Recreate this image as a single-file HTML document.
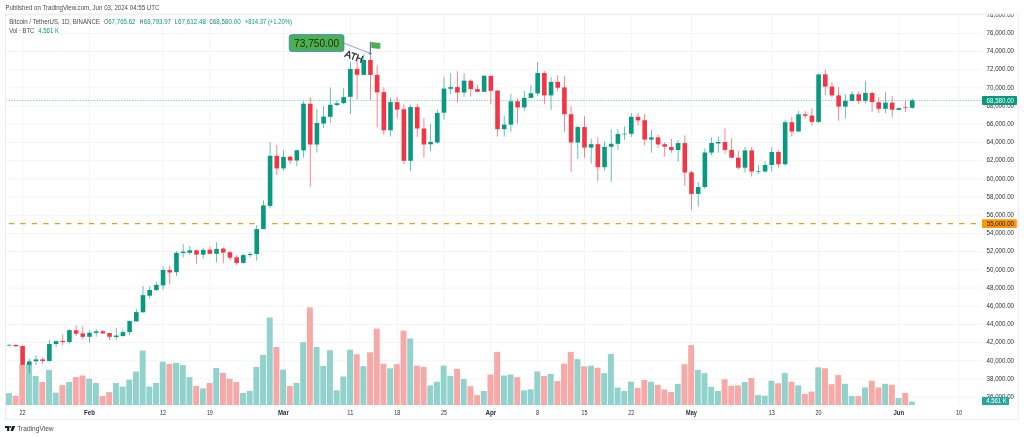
<!DOCTYPE html>
<html><head><meta charset="utf-8"><title>BTCUSDT chart</title>
<style>html,body{margin:0;padding:0;background:#fff;width:1024px;height:438px;overflow:hidden}svg{display:block;will-change:transform}</style>
</head><body><svg width="1024" height="438" viewBox="0 0 1024 438"><rect x="0" y="0" width="1024" height="438" fill="#ffffff"/><text x="5.4" y="9.9" font-family="Liberation Sans, sans-serif" font-size="6.8" fill="#4a4a4a" textLength="154" lengthAdjust="spacingAndGlyphs">Published on TradingView.com, Jun 03, 2024 04:55 UTC</text><defs><clipPath id="pane"><rect x="5.5" y="13.7" width="976.5" height="391.3"/></clipPath><clipPath id="axis"><rect x="982.0" y="13.7" width="36.299999999999955" height="391.3"/></clipPath></defs><g clip-path="url(#pane)" stroke="#f3f4f4" stroke-width="1"><line x1="5.5" y1="15.16" x2="982.0" y2="15.16"/><line x1="5.5" y1="33.35" x2="982.0" y2="33.35"/><line x1="5.5" y1="51.54" x2="982.0" y2="51.54"/><line x1="5.5" y1="69.73" x2="982.0" y2="69.73"/><line x1="5.5" y1="87.92" x2="982.0" y2="87.92"/><line x1="5.5" y1="106.11" x2="982.0" y2="106.11"/><line x1="5.5" y1="124.30" x2="982.0" y2="124.30"/><line x1="5.5" y1="142.49" x2="982.0" y2="142.49"/><line x1="5.5" y1="160.68" x2="982.0" y2="160.68"/><line x1="5.5" y1="178.87" x2="982.0" y2="178.87"/><line x1="5.5" y1="197.06" x2="982.0" y2="197.06"/><line x1="5.5" y1="215.25" x2="982.0" y2="215.25"/><line x1="5.5" y1="233.44" x2="982.0" y2="233.44"/><line x1="5.5" y1="251.63" x2="982.0" y2="251.63"/><line x1="5.5" y1="269.82" x2="982.0" y2="269.82"/><line x1="5.5" y1="288.01" x2="982.0" y2="288.01"/><line x1="5.5" y1="306.20" x2="982.0" y2="306.20"/><line x1="5.5" y1="324.39" x2="982.0" y2="324.39"/><line x1="5.5" y1="342.58" x2="982.0" y2="342.58"/><line x1="5.5" y1="360.77" x2="982.0" y2="360.77"/><line x1="5.5" y1="378.96" x2="982.0" y2="378.96"/><line x1="5.5" y1="397.15" x2="982.0" y2="397.15"/><line x1="22.60" y1="13.7" x2="22.60" y2="405.0"/><line x1="89.49" y1="13.7" x2="89.49" y2="405.0"/><line x1="163.07" y1="13.7" x2="163.07" y2="405.0"/><line x1="209.89" y1="13.7" x2="209.89" y2="405.0"/><line x1="283.47" y1="13.7" x2="283.47" y2="405.0"/><line x1="350.36" y1="13.7" x2="350.36" y2="405.0"/><line x1="397.18" y1="13.7" x2="397.18" y2="405.0"/><line x1="444.01" y1="13.7" x2="444.01" y2="405.0"/><line x1="490.83" y1="13.7" x2="490.83" y2="405.0"/><line x1="537.65" y1="13.7" x2="537.65" y2="405.0"/><line x1="584.48" y1="13.7" x2="584.48" y2="405.0"/><line x1="631.30" y1="13.7" x2="631.30" y2="405.0"/><line x1="691.50" y1="13.7" x2="691.50" y2="405.0"/><line x1="771.77" y1="13.7" x2="771.77" y2="405.0"/><line x1="818.59" y1="13.7" x2="818.59" y2="405.0"/><line x1="898.86" y1="13.7" x2="898.86" y2="405.0"/><line x1="959.06" y1="13.7" x2="959.06" y2="405.0"/></g><g clip-path="url(#pane)"><rect x="5.90" y="393.20" width="5.95" height="11.80" fill="#92d2cc"/><rect x="12.59" y="395.90" width="5.95" height="9.10" fill="#f7a9a7"/><rect x="19.27" y="364.30" width="5.95" height="40.70" fill="#f7a9a7"/><rect x="25.96" y="364.00" width="5.95" height="41.00" fill="#92d2cc"/><rect x="32.65" y="375.90" width="5.95" height="29.10" fill="#92d2cc"/><rect x="39.34" y="381.90" width="5.95" height="23.10" fill="#f7a9a7"/><rect x="46.03" y="369.90" width="5.95" height="35.10" fill="#92d2cc"/><rect x="52.72" y="392.70" width="5.95" height="12.30" fill="#92d2cc"/><rect x="59.41" y="385.00" width="5.95" height="20.00" fill="#f7a9a7"/><rect x="66.10" y="381.90" width="5.95" height="23.10" fill="#92d2cc"/><rect x="72.79" y="377.10" width="5.95" height="27.90" fill="#f7a9a7"/><rect x="79.48" y="375.50" width="5.95" height="29.50" fill="#f7a9a7"/><rect x="86.17" y="378.70" width="5.95" height="26.30" fill="#92d2cc"/><rect x="92.85" y="382.90" width="5.95" height="22.10" fill="#92d2cc"/><rect x="99.54" y="396.00" width="5.95" height="9.00" fill="#f7a9a7"/><rect x="106.23" y="392.10" width="5.95" height="12.90" fill="#f7a9a7"/><rect x="112.92" y="383.00" width="5.95" height="22.00" fill="#92d2cc"/><rect x="119.61" y="386.60" width="5.95" height="18.40" fill="#92d2cc"/><rect x="126.30" y="379.70" width="5.95" height="25.30" fill="#92d2cc"/><rect x="132.99" y="371.60" width="5.95" height="33.40" fill="#92d2cc"/><rect x="139.68" y="350.60" width="5.95" height="54.40" fill="#92d2cc"/><rect x="146.37" y="386.60" width="5.95" height="18.40" fill="#92d2cc"/><rect x="153.06" y="383.00" width="5.95" height="22.00" fill="#92d2cc"/><rect x="159.74" y="361.60" width="5.95" height="43.40" fill="#92d2cc"/><rect x="166.43" y="364.00" width="5.95" height="41.00" fill="#f7a9a7"/><rect x="173.12" y="362.90" width="5.95" height="42.10" fill="#92d2cc"/><rect x="179.81" y="365.10" width="5.95" height="39.90" fill="#92d2cc"/><rect x="186.50" y="377.10" width="5.95" height="27.90" fill="#92d2cc"/><rect x="193.19" y="385.90" width="5.95" height="19.10" fill="#f7a9a7"/><rect x="199.88" y="388.40" width="5.95" height="16.60" fill="#92d2cc"/><rect x="206.57" y="383.00" width="5.95" height="22.00" fill="#f7a9a7"/><rect x="213.26" y="368.00" width="5.95" height="37.00" fill="#92d2cc"/><rect x="219.95" y="372.90" width="5.95" height="32.10" fill="#f7a9a7"/><rect x="226.63" y="378.80" width="5.95" height="26.20" fill="#f7a9a7"/><rect x="233.32" y="382.10" width="5.95" height="22.90" fill="#f7a9a7"/><rect x="240.01" y="393.00" width="5.95" height="12.00" fill="#92d2cc"/><rect x="246.70" y="391.00" width="5.95" height="14.00" fill="#92d2cc"/><rect x="253.39" y="366.90" width="5.95" height="38.10" fill="#92d2cc"/><rect x="260.08" y="354.90" width="5.95" height="50.10" fill="#92d2cc"/><rect x="266.77" y="317.50" width="5.95" height="87.50" fill="#92d2cc"/><rect x="273.46" y="347.00" width="5.95" height="58.00" fill="#f7a9a7"/><rect x="280.15" y="369.70" width="5.95" height="35.30" fill="#92d2cc"/><rect x="286.83" y="386.00" width="5.95" height="19.00" fill="#f7a9a7"/><rect x="293.52" y="382.90" width="5.95" height="22.10" fill="#92d2cc"/><rect x="300.21" y="342.20" width="5.95" height="62.80" fill="#92d2cc"/><rect x="306.90" y="307.40" width="5.95" height="97.60" fill="#f7a9a7"/><rect x="313.59" y="347.00" width="5.95" height="58.00" fill="#92d2cc"/><rect x="320.28" y="366.00" width="5.95" height="39.00" fill="#92d2cc"/><rect x="326.97" y="350.20" width="5.95" height="54.80" fill="#92d2cc"/><rect x="333.66" y="390.30" width="5.95" height="14.70" fill="#92d2cc"/><rect x="340.35" y="376.50" width="5.95" height="28.50" fill="#92d2cc"/><rect x="347.04" y="349.80" width="5.95" height="55.20" fill="#92d2cc"/><rect x="353.72" y="354.30" width="5.95" height="50.70" fill="#f7a9a7"/><rect x="360.41" y="366.20" width="5.95" height="38.80" fill="#92d2cc"/><rect x="367.10" y="352.30" width="5.95" height="52.70" fill="#f7a9a7"/><rect x="373.79" y="328.60" width="5.95" height="76.40" fill="#f7a9a7"/><rect x="380.48" y="363.80" width="5.95" height="41.20" fill="#f7a9a7"/><rect x="387.17" y="368.30" width="5.95" height="36.70" fill="#92d2cc"/><rect x="393.86" y="364.20" width="5.95" height="40.80" fill="#f7a9a7"/><rect x="400.55" y="330.70" width="5.95" height="74.30" fill="#f7a9a7"/><rect x="407.24" y="338.50" width="5.95" height="66.50" fill="#92d2cc"/><rect x="413.93" y="365.60" width="5.95" height="39.40" fill="#f7a9a7"/><rect x="420.62" y="366.90" width="5.95" height="38.10" fill="#f7a9a7"/><rect x="427.30" y="385.40" width="5.95" height="19.60" fill="#92d2cc"/><rect x="433.99" y="381.70" width="5.95" height="23.30" fill="#92d2cc"/><rect x="440.68" y="365.60" width="5.95" height="39.40" fill="#92d2cc"/><rect x="447.37" y="375.90" width="5.95" height="29.10" fill="#92d2cc"/><rect x="454.06" y="368.90" width="5.95" height="36.10" fill="#f7a9a7"/><rect x="460.75" y="379.00" width="5.95" height="26.00" fill="#92d2cc"/><rect x="467.44" y="386.20" width="5.95" height="18.80" fill="#f7a9a7"/><rect x="474.13" y="395.10" width="5.95" height="9.90" fill="#f7a9a7"/><rect x="480.82" y="391.00" width="5.95" height="14.00" fill="#92d2cc"/><rect x="487.50" y="374.50" width="5.95" height="30.50" fill="#f7a9a7"/><rect x="494.19" y="351.90" width="5.95" height="53.10" fill="#f7a9a7"/><rect x="500.88" y="375.50" width="5.95" height="29.50" fill="#92d2cc"/><rect x="507.57" y="374.50" width="5.95" height="30.50" fill="#92d2cc"/><rect x="514.26" y="377.20" width="5.95" height="27.80" fill="#f7a9a7"/><rect x="520.95" y="390.30" width="5.95" height="14.70" fill="#92d2cc"/><rect x="527.64" y="389.30" width="5.95" height="15.70" fill="#92d2cc"/><rect x="534.33" y="371.40" width="5.95" height="33.60" fill="#92d2cc"/><rect x="541.02" y="375.90" width="5.95" height="29.10" fill="#f7a9a7"/><rect x="547.71" y="373.90" width="5.95" height="31.10" fill="#92d2cc"/><rect x="554.39" y="381.10" width="5.95" height="23.90" fill="#f7a9a7"/><rect x="561.08" y="363.60" width="5.95" height="41.40" fill="#f7a9a7"/><rect x="567.77" y="351.90" width="5.95" height="53.10" fill="#f7a9a7"/><rect x="574.46" y="359.10" width="5.95" height="45.90" fill="#92d2cc"/><rect x="581.15" y="366.30" width="5.95" height="38.70" fill="#f7a9a7"/><rect x="587.84" y="365.70" width="5.95" height="39.30" fill="#92d2cc"/><rect x="594.53" y="367.70" width="5.95" height="37.30" fill="#f7a9a7"/><rect x="601.22" y="373.10" width="5.95" height="31.90" fill="#92d2cc"/><rect x="607.91" y="353.90" width="5.95" height="51.10" fill="#92d2cc"/><rect x="614.60" y="387.50" width="5.95" height="17.50" fill="#92d2cc"/><rect x="621.28" y="391.00" width="5.95" height="14.00" fill="#92d2cc"/><rect x="627.97" y="381.70" width="5.95" height="23.30" fill="#92d2cc"/><rect x="634.66" y="387.90" width="5.95" height="17.10" fill="#f7a9a7"/><rect x="641.35" y="380.00" width="5.95" height="25.00" fill="#f7a9a7"/><rect x="648.04" y="381.70" width="5.95" height="23.30" fill="#92d2cc"/><rect x="654.73" y="384.80" width="5.95" height="20.20" fill="#f7a9a7"/><rect x="661.42" y="389.50" width="5.95" height="15.50" fill="#f7a9a7"/><rect x="668.11" y="392.00" width="5.95" height="13.00" fill="#f7a9a7"/><rect x="674.80" y="383.80" width="5.95" height="21.20" fill="#92d2cc"/><rect x="681.49" y="364.20" width="5.95" height="40.80" fill="#f7a9a7"/><rect x="688.17" y="345.10" width="5.95" height="59.90" fill="#f7a9a7"/><rect x="694.86" y="369.80" width="5.95" height="35.20" fill="#92d2cc"/><rect x="701.55" y="373.10" width="5.95" height="31.90" fill="#92d2cc"/><rect x="708.24" y="386.80" width="5.95" height="18.20" fill="#92d2cc"/><rect x="714.93" y="391.00" width="5.95" height="14.00" fill="#92d2cc"/><rect x="721.62" y="379.20" width="5.95" height="25.80" fill="#f7a9a7"/><rect x="728.31" y="385.80" width="5.95" height="19.20" fill="#f7a9a7"/><rect x="735.00" y="385.40" width="5.95" height="19.60" fill="#f7a9a7"/><rect x="741.69" y="382.10" width="5.95" height="22.90" fill="#92d2cc"/><rect x="748.38" y="378.00" width="5.95" height="27.00" fill="#f7a9a7"/><rect x="755.06" y="395.10" width="5.95" height="9.90" fill="#92d2cc"/><rect x="761.75" y="395.70" width="5.95" height="9.30" fill="#92d2cc"/><rect x="768.44" y="380.70" width="5.95" height="24.30" fill="#92d2cc"/><rect x="775.13" y="383.30" width="5.95" height="21.70" fill="#f7a9a7"/><rect x="781.82" y="373.10" width="5.95" height="31.90" fill="#92d2cc"/><rect x="788.51" y="381.70" width="5.95" height="23.30" fill="#f7a9a7"/><rect x="795.20" y="385.40" width="5.95" height="19.60" fill="#92d2cc"/><rect x="801.89" y="394.00" width="5.95" height="11.00" fill="#f7a9a7"/><rect x="808.58" y="391.60" width="5.95" height="13.40" fill="#f7a9a7"/><rect x="815.27" y="367.30" width="5.95" height="37.70" fill="#92d2cc"/><rect x="821.96" y="368.30" width="5.95" height="36.70" fill="#f7a9a7"/><rect x="828.64" y="384.20" width="5.95" height="20.80" fill="#f7a9a7"/><rect x="835.33" y="375.10" width="5.95" height="29.90" fill="#f7a9a7"/><rect x="842.02" y="383.80" width="5.95" height="21.20" fill="#92d2cc"/><rect x="848.71" y="396.10" width="5.95" height="8.90" fill="#92d2cc"/><rect x="855.40" y="396.10" width="5.95" height="8.90" fill="#f7a9a7"/><rect x="862.09" y="387.50" width="5.95" height="17.50" fill="#92d2cc"/><rect x="868.78" y="380.70" width="5.95" height="24.30" fill="#f7a9a7"/><rect x="875.47" y="387.50" width="5.95" height="17.50" fill="#f7a9a7"/><rect x="882.16" y="383.80" width="5.95" height="21.20" fill="#92d2cc"/><rect x="888.85" y="384.80" width="5.95" height="20.20" fill="#f7a9a7"/><rect x="895.53" y="398.10" width="5.95" height="6.90" fill="#92d2cc"/><rect x="902.22" y="393.00" width="5.95" height="12.00" fill="#f7a9a7"/><rect x="908.91" y="401.60" width="5.95" height="3.40" fill="#92d2cc"/></g><line x1="5.5" y1="223.6" x2="982.0" y2="223.6" stroke="#ff9800" stroke-width="1.3" stroke-dasharray="5.3 6.15" stroke-dashoffset="8.1"/><line x1="5.5" y1="100.5" x2="982.0" y2="100.5" stroke="#089981" stroke-width="0.9" stroke-opacity="0.5" stroke-dasharray="1.4 1.35"/><g clip-path="url(#pane)"><rect x="8.82" y="344.00" width="0.8" height="2.60" fill="#089981" fill-opacity="0.75"/><rect x="6.92" y="344.90" width="4.6" height="0.60" fill="#089981"/><rect x="15.51" y="343.70" width="0.8" height="2.90" fill="#f23645" fill-opacity="0.75"/><rect x="13.61" y="345.00" width="4.6" height="1.30" fill="#f23645"/><rect x="22.20" y="345.40" width="0.8" height="19.80" fill="#f23645" fill-opacity="0.75"/><rect x="20.30" y="346.00" width="4.6" height="18.80" fill="#f23645"/><rect x="28.89" y="358.60" width="0.8" height="15.00" fill="#089981" fill-opacity="0.75"/><rect x="26.99" y="361.40" width="4.6" height="3.40" fill="#089981"/><rect x="35.58" y="355.10" width="0.8" height="9.80" fill="#089981" fill-opacity="0.75"/><rect x="33.68" y="359.40" width="4.6" height="1.80" fill="#089981"/><rect x="42.27" y="357.40" width="0.8" height="6.40" fill="#f23645" fill-opacity="0.75"/><rect x="40.37" y="359.40" width="4.6" height="1.60" fill="#f23645"/><rect x="48.96" y="339.90" width="0.8" height="21.60" fill="#089981" fill-opacity="0.75"/><rect x="47.06" y="344.00" width="4.6" height="17.00" fill="#089981"/><rect x="55.65" y="340.40" width="0.8" height="6.70" fill="#089981" fill-opacity="0.75"/><rect x="53.75" y="341.20" width="4.6" height="2.80" fill="#089981"/><rect x="62.33" y="334.50" width="0.8" height="10.50" fill="#f23645" fill-opacity="0.75"/><rect x="60.43" y="341.00" width="4.6" height="1.00" fill="#f23645"/><rect x="69.02" y="329.60" width="0.8" height="13.90" fill="#089981" fill-opacity="0.75"/><rect x="67.12" y="330.10" width="4.6" height="11.90" fill="#089981"/><rect x="75.71" y="325.20" width="0.8" height="10.80" fill="#f23645" fill-opacity="0.75"/><rect x="73.81" y="330.30" width="4.6" height="3.40" fill="#f23645"/><rect x="82.40" y="326.20" width="0.8" height="13.40" fill="#f23645" fill-opacity="0.75"/><rect x="80.50" y="333.40" width="4.6" height="3.40" fill="#f23645"/><rect x="89.09" y="330.30" width="0.8" height="12.30" fill="#089981" fill-opacity="0.75"/><rect x="87.19" y="332.70" width="4.6" height="4.10" fill="#089981"/><rect x="95.78" y="329.00" width="0.8" height="7.80" fill="#089981" fill-opacity="0.75"/><rect x="93.88" y="331.30" width="4.6" height="1.60" fill="#089981"/><rect x="102.47" y="330.30" width="0.8" height="3.40" fill="#f23645" fill-opacity="0.75"/><rect x="100.57" y="331.30" width="4.6" height="2.10" fill="#f23645"/><rect x="109.16" y="332.70" width="0.8" height="7.40" fill="#f23645" fill-opacity="0.75"/><rect x="107.26" y="333.10" width="4.6" height="3.70" fill="#f23645"/><rect x="115.85" y="327.70" width="0.8" height="11.90" fill="#089981" fill-opacity="0.75"/><rect x="113.95" y="335.50" width="4.6" height="1.50" fill="#089981"/><rect x="122.53" y="329.30" width="0.8" height="7.50" fill="#089981" fill-opacity="0.75"/><rect x="120.64" y="332.10" width="4.6" height="3.90" fill="#089981"/><rect x="129.22" y="320.30" width="0.8" height="14.70" fill="#089981" fill-opacity="0.75"/><rect x="127.32" y="321.10" width="4.6" height="11.00" fill="#089981"/><rect x="135.91" y="309.00" width="0.8" height="12.60" fill="#089981" fill-opacity="0.75"/><rect x="134.01" y="312.10" width="4.6" height="9.30" fill="#089981"/><rect x="142.60" y="285.90" width="0.8" height="26.60" fill="#089981" fill-opacity="0.75"/><rect x="140.70" y="295.10" width="4.6" height="17.20" fill="#089981"/><rect x="149.29" y="286.20" width="0.8" height="12.40" fill="#089981" fill-opacity="0.75"/><rect x="147.39" y="290.00" width="4.6" height="5.70" fill="#089981"/><rect x="155.98" y="282.00" width="0.8" height="9.00" fill="#089981" fill-opacity="0.75"/><rect x="154.08" y="284.90" width="4.6" height="5.10" fill="#089981"/><rect x="162.67" y="266.50" width="0.8" height="23.20" fill="#089981" fill-opacity="0.75"/><rect x="160.77" y="270.00" width="4.6" height="15.40" fill="#089981"/><rect x="169.36" y="266.00" width="0.8" height="18.50" fill="#f23645" fill-opacity="0.75"/><rect x="167.46" y="270.00" width="4.6" height="2.50" fill="#f23645"/><rect x="176.05" y="251.10" width="0.8" height="24.90" fill="#089981" fill-opacity="0.75"/><rect x="174.15" y="252.80" width="4.6" height="19.40" fill="#089981"/><rect x="182.74" y="243.80" width="0.8" height="13.70" fill="#089981" fill-opacity="0.75"/><rect x="180.84" y="251.60" width="4.6" height="1.40" fill="#089981"/><rect x="189.42" y="246.00" width="0.8" height="8.60" fill="#089981" fill-opacity="0.75"/><rect x="187.52" y="250.30" width="4.6" height="2.50" fill="#089981"/><rect x="196.11" y="250.00" width="0.8" height="13.60" fill="#f23645" fill-opacity="0.75"/><rect x="194.21" y="250.30" width="4.6" height="4.30" fill="#f23645"/><rect x="202.80" y="247.70" width="0.8" height="10.80" fill="#089981" fill-opacity="0.75"/><rect x="200.90" y="249.90" width="4.6" height="4.70" fill="#089981"/><rect x="209.49" y="246.50" width="0.8" height="7.30" fill="#f23645" fill-opacity="0.75"/><rect x="207.59" y="249.70" width="4.6" height="4.10" fill="#f23645"/><rect x="216.18" y="242.40" width="0.8" height="20.10" fill="#089981" fill-opacity="0.75"/><rect x="214.28" y="248.90" width="4.6" height="4.90" fill="#089981"/><rect x="222.87" y="247.40" width="0.8" height="16.00" fill="#f23645" fill-opacity="0.75"/><rect x="220.97" y="248.60" width="4.6" height="4.00" fill="#f23645"/><rect x="229.56" y="251.00" width="0.8" height="9.20" fill="#f23645" fill-opacity="0.75"/><rect x="227.66" y="252.20" width="4.6" height="5.50" fill="#f23645"/><rect x="236.25" y="255.10" width="0.8" height="9.60" fill="#f23645" fill-opacity="0.75"/><rect x="234.35" y="257.40" width="4.6" height="5.50" fill="#f23645"/><rect x="242.94" y="254.20" width="0.8" height="9.60" fill="#089981" fill-opacity="0.75"/><rect x="241.04" y="255.10" width="4.6" height="7.80" fill="#089981"/><rect x="249.63" y="252.00" width="0.8" height="5.40" fill="#089981" fill-opacity="0.75"/><rect x="247.73" y="254.00" width="4.6" height="1.10" fill="#089981"/><rect x="256.32" y="224.90" width="0.8" height="35.70" fill="#089981" fill-opacity="0.75"/><rect x="254.42" y="229.10" width="4.6" height="24.90" fill="#089981"/><rect x="263.00" y="200.30" width="0.8" height="28.80" fill="#089981" fill-opacity="0.75"/><rect x="261.10" y="205.40" width="4.6" height="23.70" fill="#089981"/><rect x="269.69" y="142.00" width="0.8" height="66.50" fill="#089981" fill-opacity="0.75"/><rect x="267.79" y="155.80" width="4.6" height="50.10" fill="#089981"/><rect x="276.38" y="145.00" width="0.8" height="30.00" fill="#f23645" fill-opacity="0.75"/><rect x="274.48" y="155.80" width="4.6" height="12.60" fill="#f23645"/><rect x="283.07" y="150.20" width="0.8" height="20.50" fill="#089981" fill-opacity="0.75"/><rect x="281.17" y="156.90" width="4.6" height="11.50" fill="#089981"/><rect x="289.76" y="155.80" width="0.8" height="8.20" fill="#f23645" fill-opacity="0.75"/><rect x="287.86" y="156.70" width="4.6" height="3.80" fill="#f23645"/><rect x="296.45" y="149.70" width="0.8" height="16.40" fill="#089981" fill-opacity="0.75"/><rect x="294.55" y="150.20" width="4.6" height="10.30" fill="#089981"/><rect x="303.14" y="101.40" width="0.8" height="56.20" fill="#089981" fill-opacity="0.75"/><rect x="301.24" y="103.70" width="4.6" height="46.70" fill="#089981"/><rect x="309.83" y="97.10" width="0.8" height="89.70" fill="#f23645" fill-opacity="0.75"/><rect x="307.93" y="103.70" width="4.6" height="40.80" fill="#f23645"/><rect x="316.52" y="108.90" width="0.8" height="43.70" fill="#089981" fill-opacity="0.75"/><rect x="314.62" y="123.00" width="4.6" height="21.50" fill="#089981"/><rect x="323.21" y="106.10" width="0.8" height="21.80" fill="#089981" fill-opacity="0.75"/><rect x="321.31" y="116.60" width="4.6" height="7.00" fill="#089981"/><rect x="329.89" y="87.50" width="0.8" height="35.20" fill="#089981" fill-opacity="0.75"/><rect x="327.99" y="104.80" width="4.6" height="12.00" fill="#089981"/><rect x="336.58" y="100.70" width="0.8" height="5.80" fill="#089981" fill-opacity="0.75"/><rect x="334.68" y="103.20" width="4.6" height="1.80" fill="#089981"/><rect x="343.27" y="88.40" width="0.8" height="15.80" fill="#089981" fill-opacity="0.75"/><rect x="341.37" y="97.10" width="4.6" height="6.10" fill="#089981"/><rect x="349.96" y="62.00" width="0.8" height="52.00" fill="#089981" fill-opacity="0.75"/><rect x="348.06" y="68.90" width="4.6" height="27.90" fill="#089981"/><rect x="356.65" y="59.80" width="0.8" height="39.80" fill="#f23645" fill-opacity="0.75"/><rect x="354.75" y="68.90" width="4.6" height="5.90" fill="#f23645"/><rect x="363.34" y="54.20" width="0.8" height="20.70" fill="#089981" fill-opacity="0.75"/><rect x="361.44" y="60.00" width="4.6" height="14.90" fill="#089981"/><rect x="370.03" y="53.40" width="0.8" height="46.80" fill="#f23645" fill-opacity="0.75"/><rect x="368.13" y="60.00" width="4.6" height="14.90" fill="#f23645"/><rect x="376.72" y="65.60" width="0.8" height="61.50" fill="#f23645" fill-opacity="0.75"/><rect x="374.82" y="74.90" width="4.6" height="17.50" fill="#f23645"/><rect x="383.41" y="87.10" width="0.8" height="47.60" fill="#f23645" fill-opacity="0.75"/><rect x="381.51" y="92.10" width="4.6" height="38.20" fill="#f23645"/><rect x="390.10" y="97.30" width="0.8" height="39.40" fill="#089981" fill-opacity="0.75"/><rect x="388.19" y="102.10" width="4.6" height="28.20" fill="#089981"/><rect x="396.78" y="96.90" width="0.8" height="21.30" fill="#f23645" fill-opacity="0.75"/><rect x="394.88" y="102.10" width="4.6" height="7.50" fill="#f23645"/><rect x="403.47" y="104.50" width="0.8" height="59.80" fill="#f23645" fill-opacity="0.75"/><rect x="401.57" y="109.20" width="4.6" height="51.60" fill="#f23645"/><rect x="410.16" y="104.50" width="0.8" height="66.60" fill="#089981" fill-opacity="0.75"/><rect x="408.26" y="107.10" width="4.6" height="53.70" fill="#089981"/><rect x="416.85" y="103.70" width="0.8" height="33.10" fill="#f23645" fill-opacity="0.75"/><rect x="414.95" y="107.10" width="4.6" height="21.40" fill="#f23645"/><rect x="423.54" y="118.10" width="0.8" height="39.60" fill="#f23645" fill-opacity="0.75"/><rect x="421.64" y="128.50" width="4.6" height="16.00" fill="#f23645"/><rect x="430.23" y="124.00" width="0.8" height="27.10" fill="#089981" fill-opacity="0.75"/><rect x="428.33" y="141.90" width="4.6" height="2.40" fill="#089981"/><rect x="436.92" y="109.50" width="0.8" height="34.10" fill="#089981" fill-opacity="0.75"/><rect x="435.02" y="113.00" width="4.6" height="29.50" fill="#089981"/><rect x="443.61" y="77.10" width="0.8" height="42.50" fill="#089981" fill-opacity="0.75"/><rect x="441.71" y="88.60" width="4.6" height="24.10" fill="#089981"/><rect x="450.30" y="73.20" width="0.8" height="20.80" fill="#089981" fill-opacity="0.75"/><rect x="448.40" y="87.10" width="4.6" height="1.70" fill="#089981"/><rect x="456.99" y="71.20" width="0.8" height="31.30" fill="#f23645" fill-opacity="0.75"/><rect x="455.09" y="87.10" width="4.6" height="5.40" fill="#f23645"/><rect x="463.67" y="73.20" width="0.8" height="23.70" fill="#089981" fill-opacity="0.75"/><rect x="461.77" y="80.60" width="4.6" height="11.90" fill="#089981"/><rect x="470.36" y="79.30" width="0.8" height="17.20" fill="#f23645" fill-opacity="0.75"/><rect x="468.46" y="80.70" width="4.6" height="8.40" fill="#f23645"/><rect x="477.05" y="84.80" width="0.8" height="7.00" fill="#f23645" fill-opacity="0.75"/><rect x="475.15" y="89.10" width="4.6" height="2.70" fill="#f23645"/><rect x="483.74" y="75.20" width="0.8" height="16.60" fill="#089981" fill-opacity="0.75"/><rect x="481.84" y="75.80" width="4.6" height="16.00" fill="#089981"/><rect x="490.43" y="75.80" width="0.8" height="28.70" fill="#f23645" fill-opacity="0.75"/><rect x="488.53" y="75.80" width="4.6" height="15.00" fill="#f23645"/><rect x="497.12" y="90.20" width="0.8" height="46.30" fill="#f23645" fill-opacity="0.75"/><rect x="495.22" y="90.60" width="4.6" height="38.60" fill="#f23645"/><rect x="503.81" y="115.80" width="0.8" height="20.70" fill="#089981" fill-opacity="0.75"/><rect x="501.91" y="124.60" width="4.6" height="4.60" fill="#089981"/><rect x="510.50" y="93.80" width="0.8" height="37.90" fill="#089981" fill-opacity="0.75"/><rect x="508.60" y="101.30" width="4.6" height="23.30" fill="#089981"/><rect x="517.19" y="99.10" width="0.8" height="24.80" fill="#f23645" fill-opacity="0.75"/><rect x="515.29" y="101.30" width="4.6" height="6.10" fill="#f23645"/><rect x="523.88" y="90.50" width="0.8" height="20.30" fill="#089981" fill-opacity="0.75"/><rect x="521.98" y="97.90" width="4.6" height="9.50" fill="#089981"/><rect x="530.56" y="85.00" width="0.8" height="13.00" fill="#089981" fill-opacity="0.75"/><rect x="528.66" y="93.20" width="4.6" height="4.70" fill="#089981"/><rect x="537.25" y="62.00" width="0.8" height="33.90" fill="#089981" fill-opacity="0.75"/><rect x="535.35" y="73.00" width="4.6" height="20.40" fill="#089981"/><rect x="543.94" y="71.20" width="0.8" height="32.70" fill="#f23645" fill-opacity="0.75"/><rect x="542.04" y="73.00" width="4.6" height="22.40" fill="#f23645"/><rect x="550.63" y="77.10" width="0.8" height="32.90" fill="#089981" fill-opacity="0.75"/><rect x="548.73" y="81.90" width="4.6" height="13.50" fill="#089981"/><rect x="557.32" y="75.30" width="0.8" height="16.00" fill="#f23645" fill-opacity="0.75"/><rect x="555.42" y="81.90" width="4.6" height="5.80" fill="#f23645"/><rect x="564.01" y="76.40" width="0.8" height="55.60" fill="#f23645" fill-opacity="0.75"/><rect x="562.11" y="87.40" width="4.6" height="26.80" fill="#f23645"/><rect x="570.70" y="106.20" width="0.8" height="65.60" fill="#f23645" fill-opacity="0.75"/><rect x="568.80" y="114.20" width="4.6" height="28.30" fill="#f23645"/><rect x="577.39" y="125.50" width="0.8" height="33.50" fill="#089981" fill-opacity="0.75"/><rect x="575.49" y="127.10" width="4.6" height="15.40" fill="#089981"/><rect x="584.08" y="116.20" width="0.8" height="41.40" fill="#f23645" fill-opacity="0.75"/><rect x="582.18" y="127.10" width="4.6" height="20.50" fill="#f23645"/><rect x="590.77" y="138.70" width="0.8" height="24.90" fill="#089981" fill-opacity="0.75"/><rect x="588.87" y="144.20" width="4.6" height="3.40" fill="#089981"/><rect x="597.45" y="137.10" width="0.8" height="44.10" fill="#f23645" fill-opacity="0.75"/><rect x="595.55" y="144.20" width="4.6" height="23.00" fill="#f23645"/><rect x="604.14" y="141.20" width="0.8" height="29.70" fill="#089981" fill-opacity="0.75"/><rect x="602.24" y="146.90" width="4.6" height="20.30" fill="#089981"/><rect x="610.83" y="129.20" width="0.8" height="52.60" fill="#089981" fill-opacity="0.75"/><rect x="608.93" y="143.80" width="4.6" height="3.00" fill="#089981"/><rect x="617.52" y="129.20" width="0.8" height="20.70" fill="#089981" fill-opacity="0.75"/><rect x="615.62" y="134.00" width="4.6" height="9.80" fill="#089981"/><rect x="624.21" y="126.40" width="0.8" height="13.50" fill="#089981" fill-opacity="0.75"/><rect x="622.31" y="133.70" width="4.6" height="0.60" fill="#089981"/><rect x="630.90" y="113.00" width="0.8" height="23.90" fill="#089981" fill-opacity="0.75"/><rect x="629.00" y="116.80" width="4.6" height="17.00" fill="#089981"/><rect x="637.59" y="113.00" width="0.8" height="12.60" fill="#f23645" fill-opacity="0.75"/><rect x="635.69" y="116.80" width="4.6" height="3.60" fill="#f23645"/><rect x="644.28" y="114.00" width="0.8" height="31.40" fill="#f23645" fill-opacity="0.75"/><rect x="642.38" y="120.20" width="4.6" height="19.40" fill="#f23645"/><rect x="650.97" y="129.90" width="0.8" height="22.80" fill="#089981" fill-opacity="0.75"/><rect x="649.07" y="137.40" width="4.6" height="2.20" fill="#089981"/><rect x="657.66" y="135.00" width="0.8" height="12.80" fill="#f23645" fill-opacity="0.75"/><rect x="655.76" y="137.40" width="4.6" height="7.00" fill="#f23645"/><rect x="664.34" y="142.30" width="0.8" height="14.30" fill="#f23645" fill-opacity="0.75"/><rect x="662.44" y="144.20" width="4.6" height="2.50" fill="#f23645"/><rect x="671.03" y="139.00" width="0.8" height="13.80" fill="#f23645" fill-opacity="0.75"/><rect x="669.13" y="147.10" width="4.6" height="2.90" fill="#f23645"/><rect x="677.72" y="140.00" width="0.8" height="21.90" fill="#089981" fill-opacity="0.75"/><rect x="675.82" y="143.10" width="4.6" height="6.90" fill="#089981"/><rect x="684.41" y="135.30" width="0.8" height="50.50" fill="#f23645" fill-opacity="0.75"/><rect x="682.51" y="143.10" width="4.6" height="29.40" fill="#f23645"/><rect x="691.10" y="171.00" width="0.8" height="38.60" fill="#f23645" fill-opacity="0.75"/><rect x="689.20" y="172.30" width="4.6" height="21.60" fill="#f23645"/><rect x="697.79" y="182.00" width="0.8" height="24.50" fill="#089981" fill-opacity="0.75"/><rect x="695.89" y="187.00" width="4.6" height="6.90" fill="#089981"/><rect x="704.48" y="148.40" width="0.8" height="40.50" fill="#089981" fill-opacity="0.75"/><rect x="702.58" y="152.50" width="4.6" height="34.50" fill="#089981"/><rect x="711.17" y="137.40" width="0.8" height="17.90" fill="#089981" fill-opacity="0.75"/><rect x="709.27" y="143.00" width="4.6" height="9.60" fill="#089981"/><rect x="717.86" y="136.40" width="0.8" height="16.30" fill="#089981" fill-opacity="0.75"/><rect x="715.96" y="142.00" width="4.6" height="1.50" fill="#089981"/><rect x="724.55" y="128.50" width="0.8" height="25.20" fill="#f23645" fill-opacity="0.75"/><rect x="722.65" y="142.00" width="4.6" height="7.90" fill="#f23645"/><rect x="731.23" y="138.20" width="0.8" height="19.80" fill="#f23645" fill-opacity="0.75"/><rect x="729.33" y="149.90" width="4.6" height="7.80" fill="#f23645"/><rect x="737.92" y="150.80" width="0.8" height="18.80" fill="#f23645" fill-opacity="0.75"/><rect x="736.02" y="157.70" width="4.6" height="10.00" fill="#f23645"/><rect x="744.61" y="147.00" width="0.8" height="25.50" fill="#089981" fill-opacity="0.75"/><rect x="742.71" y="150.40" width="4.6" height="17.30" fill="#089981"/><rect x="751.30" y="147.10" width="0.8" height="29.50" fill="#f23645" fill-opacity="0.75"/><rect x="749.40" y="150.40" width="4.6" height="21.10" fill="#f23645"/><rect x="757.99" y="165.00" width="0.8" height="8.80" fill="#089981" fill-opacity="0.75"/><rect x="756.09" y="171.00" width="4.6" height="0.60" fill="#089981"/><rect x="764.68" y="161.20" width="0.8" height="11.30" fill="#089981" fill-opacity="0.75"/><rect x="762.78" y="165.00" width="4.6" height="6.50" fill="#089981"/><rect x="771.37" y="147.30" width="0.8" height="24.20" fill="#089981" fill-opacity="0.75"/><rect x="769.47" y="152.00" width="4.6" height="13.00" fill="#089981"/><rect x="778.06" y="150.40" width="0.8" height="17.30" fill="#f23645" fill-opacity="0.75"/><rect x="776.16" y="152.00" width="4.6" height="12.30" fill="#f23645"/><rect x="784.75" y="119.70" width="0.8" height="46.10" fill="#089981" fill-opacity="0.75"/><rect x="782.85" y="122.20" width="4.6" height="42.10" fill="#089981"/><rect x="791.44" y="117.10" width="0.8" height="19.50" fill="#f23645" fill-opacity="0.75"/><rect x="789.54" y="122.20" width="4.6" height="9.30" fill="#f23645"/><rect x="798.12" y="110.90" width="0.8" height="20.60" fill="#089981" fill-opacity="0.75"/><rect x="796.22" y="114.30" width="4.6" height="17.20" fill="#089981"/><rect x="804.81" y="111.20" width="0.8" height="7.20" fill="#f23645" fill-opacity="0.75"/><rect x="802.91" y="114.30" width="4.6" height="1.50" fill="#f23645"/><rect x="811.50" y="108.20" width="0.8" height="17.10" fill="#f23645" fill-opacity="0.75"/><rect x="809.60" y="115.60" width="4.6" height="6.30" fill="#f23645"/><rect x="818.19" y="74.00" width="0.8" height="49.00" fill="#089981" fill-opacity="0.75"/><rect x="816.29" y="74.40" width="4.6" height="47.50" fill="#089981"/><rect x="824.88" y="69.80" width="0.8" height="25.10" fill="#f23645" fill-opacity="0.75"/><rect x="822.98" y="74.40" width="4.6" height="12.20" fill="#f23645"/><rect x="831.57" y="82.00" width="0.8" height="15.40" fill="#f23645" fill-opacity="0.75"/><rect x="829.67" y="86.60" width="4.6" height="8.80" fill="#f23645"/><rect x="838.26" y="87.00" width="0.8" height="33.80" fill="#f23645" fill-opacity="0.75"/><rect x="836.36" y="95.40" width="4.6" height="11.20" fill="#f23645"/><rect x="844.95" y="94.10" width="0.8" height="24.30" fill="#089981" fill-opacity="0.75"/><rect x="843.05" y="100.90" width="4.6" height="5.70" fill="#089981"/><rect x="851.64" y="91.20" width="0.8" height="9.70" fill="#089981" fill-opacity="0.75"/><rect x="849.74" y="94.30" width="4.6" height="6.60" fill="#089981"/><rect x="858.33" y="91.50" width="0.8" height="12.70" fill="#f23645" fill-opacity="0.75"/><rect x="856.43" y="94.30" width="4.6" height="6.60" fill="#f23645"/><rect x="865.01" y="81.10" width="0.8" height="22.30" fill="#089981" fill-opacity="0.75"/><rect x="863.11" y="93.00" width="4.6" height="7.90" fill="#089981"/><rect x="871.70" y="91.40" width="0.8" height="20.60" fill="#f23645" fill-opacity="0.75"/><rect x="869.80" y="93.00" width="4.6" height="9.00" fill="#f23645"/><rect x="878.39" y="97.10" width="0.8" height="15.90" fill="#f23645" fill-opacity="0.75"/><rect x="876.49" y="102.30" width="4.6" height="6.50" fill="#f23645"/><rect x="885.08" y="92.00" width="0.8" height="21.00" fill="#089981" fill-opacity="0.75"/><rect x="883.18" y="102.70" width="4.6" height="6.10" fill="#089981"/><rect x="891.77" y="96.10" width="0.8" height="21.30" fill="#f23645" fill-opacity="0.75"/><rect x="889.87" y="102.70" width="4.6" height="7.00" fill="#f23645"/><rect x="898.46" y="107.50" width="0.8" height="2.80" fill="#089981" fill-opacity="0.75"/><rect x="896.56" y="108.10" width="4.6" height="1.80" fill="#089981"/><rect x="905.15" y="101.20" width="0.8" height="10.70" fill="#f23645" fill-opacity="0.75"/><rect x="903.25" y="107.40" width="4.6" height="0.70" fill="#f23645"/><rect x="911.84" y="98.20" width="0.8" height="10.60" fill="#089981" fill-opacity="0.75"/><rect x="909.94" y="100.40" width="4.6" height="7.40" fill="#089981"/></g><g clip-path="url(#axis)" font-family="Liberation Sans, sans-serif" font-size="7.0" fill="#2a2e39"><text x="1014" y="16.91" text-anchor="end" textLength="27.4" lengthAdjust="spacingAndGlyphs">78,000.00</text><text x="1014" y="35.10" text-anchor="end" textLength="27.4" lengthAdjust="spacingAndGlyphs">76,000.00</text><text x="1014" y="53.29" text-anchor="end" textLength="27.4" lengthAdjust="spacingAndGlyphs">74,000.00</text><text x="1014" y="71.48" text-anchor="end" textLength="27.4" lengthAdjust="spacingAndGlyphs">72,000.00</text><text x="1014" y="89.67" text-anchor="end" textLength="27.4" lengthAdjust="spacingAndGlyphs">70,000.00</text><text x="1014" y="107.86" text-anchor="end" textLength="27.4" lengthAdjust="spacingAndGlyphs">68,000.00</text><text x="1014" y="126.05" text-anchor="end" textLength="27.4" lengthAdjust="spacingAndGlyphs">66,000.00</text><text x="1014" y="144.24" text-anchor="end" textLength="27.4" lengthAdjust="spacingAndGlyphs">64,000.00</text><text x="1014" y="162.43" text-anchor="end" textLength="27.4" lengthAdjust="spacingAndGlyphs">62,000.00</text><text x="1014" y="180.62" text-anchor="end" textLength="27.4" lengthAdjust="spacingAndGlyphs">60,000.00</text><text x="1014" y="198.81" text-anchor="end" textLength="27.4" lengthAdjust="spacingAndGlyphs">58,000.00</text><text x="1014" y="217.00" text-anchor="end" textLength="27.4" lengthAdjust="spacingAndGlyphs">56,000.00</text><text x="1014" y="235.19" text-anchor="end" textLength="27.4" lengthAdjust="spacingAndGlyphs">54,000.00</text><text x="1014" y="253.38" text-anchor="end" textLength="27.4" lengthAdjust="spacingAndGlyphs">52,000.00</text><text x="1014" y="271.57" text-anchor="end" textLength="27.4" lengthAdjust="spacingAndGlyphs">50,000.00</text><text x="1014" y="289.76" text-anchor="end" textLength="27.4" lengthAdjust="spacingAndGlyphs">48,000.00</text><text x="1014" y="307.95" text-anchor="end" textLength="27.4" lengthAdjust="spacingAndGlyphs">46,000.00</text><text x="1014" y="326.14" text-anchor="end" textLength="27.4" lengthAdjust="spacingAndGlyphs">44,000.00</text><text x="1014" y="344.33" text-anchor="end" textLength="27.4" lengthAdjust="spacingAndGlyphs">42,000.00</text><text x="1014" y="362.52" text-anchor="end" textLength="27.4" lengthAdjust="spacingAndGlyphs">40,000.00</text><text x="1014" y="380.71" text-anchor="end" textLength="27.4" lengthAdjust="spacingAndGlyphs">38,000.00</text><text x="1014" y="398.90" text-anchor="end" textLength="27.4" lengthAdjust="spacingAndGlyphs">36,000.00</text></g><rect x="982" y="96" width="35" height="9" rx="1" fill="#089981"/><text x="1014" y="102.7" font-family="Liberation Sans, sans-serif" font-size="7.0" fill="#ffffff" text-anchor="end" textLength="27.4" lengthAdjust="spacingAndGlyphs">68,580.00</text><rect x="982" y="219.3" width="34.8" height="8.8" rx="1" fill="#ff9800"/><text x="1014" y="226.0" font-family="Liberation Sans, sans-serif" font-size="7.0" fill="#131722" text-anchor="end" textLength="27.2" lengthAdjust="spacingAndGlyphs">55,000.00</text><rect x="982" y="397" width="27" height="8" rx="0.5" fill="#26a69a"/><text x="1006.8" y="403.4" font-family="Liberation Sans, sans-serif" font-size="7.0" fill="#ffffff" text-anchor="end" textLength="20.6" lengthAdjust="spacingAndGlyphs">4.561 K</text><g font-family="Liberation Sans, sans-serif" font-size="7.0" fill="#2a2e39"><text x="22.60" y="415.2" text-anchor="middle" textLength="6.0" lengthAdjust="spacingAndGlyphs">22</text><text x="89.49" y="415.2" text-anchor="middle" font-weight="bold" textLength="10.8" lengthAdjust="spacingAndGlyphs">Feb</text><text x="163.07" y="415.2" text-anchor="middle" textLength="6.0" lengthAdjust="spacingAndGlyphs">12</text><text x="209.89" y="415.2" text-anchor="middle" textLength="6.0" lengthAdjust="spacingAndGlyphs">19</text><text x="283.47" y="415.2" text-anchor="middle" font-weight="bold" textLength="10.8" lengthAdjust="spacingAndGlyphs">Mar</text><text x="350.36" y="415.2" text-anchor="middle" textLength="6.0" lengthAdjust="spacingAndGlyphs">11</text><text x="397.18" y="415.2" text-anchor="middle" textLength="6.0" lengthAdjust="spacingAndGlyphs">18</text><text x="444.01" y="415.2" text-anchor="middle" textLength="6.0" lengthAdjust="spacingAndGlyphs">25</text><text x="490.83" y="415.2" text-anchor="middle" font-weight="bold" textLength="10.8" lengthAdjust="spacingAndGlyphs">Apr</text><text x="537.65" y="415.2" text-anchor="middle" textLength="3.1" lengthAdjust="spacingAndGlyphs">8</text><text x="584.48" y="415.2" text-anchor="middle" textLength="6.0" lengthAdjust="spacingAndGlyphs">15</text><text x="631.30" y="415.2" text-anchor="middle" textLength="6.0" lengthAdjust="spacingAndGlyphs">22</text><text x="691.50" y="415.2" text-anchor="middle" font-weight="bold" textLength="10.8" lengthAdjust="spacingAndGlyphs">May</text><text x="771.77" y="415.2" text-anchor="middle" textLength="6.0" lengthAdjust="spacingAndGlyphs">13</text><text x="818.59" y="415.2" text-anchor="middle" textLength="6.0" lengthAdjust="spacingAndGlyphs">20</text><text x="898.86" y="415.2" text-anchor="middle" font-weight="bold" textLength="10.8" lengthAdjust="spacingAndGlyphs">Jun</text><text x="959.06" y="415.2" text-anchor="middle" textLength="6.0" lengthAdjust="spacingAndGlyphs">10</text></g><rect x="5.5" y="14.1" width="1012.7" height="405.3" fill="none" stroke="#eaecf0" stroke-width="1"/><g font-family="Liberation Sans, sans-serif" font-size="6.6"><text x="9.3" y="24" fill="#4a4a4a" textLength="90.6" lengthAdjust="spacingAndGlyphs">Bitcoin / TetherUS, 1D, BINANCE</text><text x="104.2" y="24" fill="#3a3a3a" textLength="3.7" lengthAdjust="spacingAndGlyphs">O</text><text x="108.2" y="24" fill="#089981" textLength="27.3" lengthAdjust="spacingAndGlyphs">67,765.62</text><text x="140.0" y="24" fill="#3a3a3a" textLength="3.4" lengthAdjust="spacingAndGlyphs">H</text><text x="143.8" y="24" fill="#089981" textLength="27.2" lengthAdjust="spacingAndGlyphs">68,793.97</text><text x="175.0" y="24" fill="#3a3a3a" textLength="2.7" lengthAdjust="spacingAndGlyphs">L</text><text x="177.9" y="24" fill="#089981" textLength="28" lengthAdjust="spacingAndGlyphs">67,612.48</text><text x="209.6" y="24" fill="#3a3a3a" textLength="3.2" lengthAdjust="spacingAndGlyphs">C</text><text x="212.7" y="24" fill="#089981" textLength="28" lengthAdjust="spacingAndGlyphs">68,580.00</text><text x="244.8" y="24" fill="#089981" textLength="47.2" lengthAdjust="spacingAndGlyphs">+814.37 (+1.20%)</text><text x="9.3" y="32.8" fill="#4a4a4a" textLength="25" lengthAdjust="spacingAndGlyphs">Vol · BTC</text><text x="38.2" y="32.8" fill="#089981" textLength="20.8" lengthAdjust="spacingAndGlyphs">4.561 K</text></g><rect x="289.2" y="34.5" width="54.8" height="17" rx="2.6" fill="#4caf50" stroke="#2962ff" stroke-width="0.6"/><text x="316.6" y="46.6" font-family="Liberation Sans, sans-serif" font-size="10.2" fill="#1b2a1b" text-anchor="middle" textLength="45" lengthAdjust="spacingAndGlyphs">73,750.00</text><line x1="344" y1="43.2" x2="370.2" y2="53.4" stroke="#2962ff" stroke-width="0.6"/><circle cx="370.2" cy="53.4" r="1.2" fill="#2962ff"/><line x1="370.35" y1="41.8" x2="370.35" y2="52" stroke="#4a4e5a" stroke-width="0.95"/><path d="M371.3 42.1 C373.8 41.5 376.3 43.3 380.3 42.7 L380.3 48.7 C376.3 49.3 373.8 47.5 371.3 48.1 Z" fill="#4caf50"/><text x="0" y="0" font-family="Liberation Sans, sans-serif" font-size="9.9" fill="#131722" stroke="#131722" stroke-width="0.25" transform="translate(343.9 56.5) rotate(20)">ATH</text><g fill="#131722"><path d="M5 426 h4.2 v4.9 h-2.1 v-2.8 h-2.1 z"/><circle cx="10.4" cy="427" r="1"/><path d="M12.4 426 h2.9 l-2.3 4.9 h-2.5 z"/></g><text x="17.3" y="431" font-family="Liberation Sans, sans-serif" font-size="6.5" fill="#4a4a4a" textLength="36.3" lengthAdjust="spacingAndGlyphs">TradingView</text></svg></body></html>
